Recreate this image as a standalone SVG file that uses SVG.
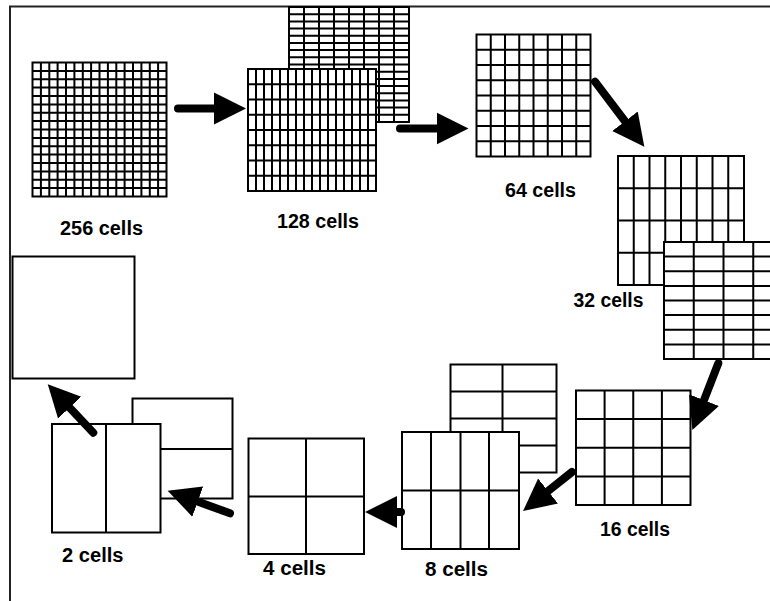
<svg xmlns="http://www.w3.org/2000/svg" width="770" height="601" viewBox="0 0 770 601">
  <style>
    .bg { fill: #ffffff; }
    .cell { fill: #ffffff; stroke: #000000; stroke-width: 2; }
    .grid { fill: none; stroke: #000000; stroke-width: 2; }
    .frame { fill: none; stroke: #222222; stroke-width: 2; }
    .shaft { fill: none; stroke: #000000; stroke-width: 8; stroke-linecap: round; marker-end: url(#head); }
    .label { font-family: "Liberation Sans", Arial, sans-serif; font-weight: bold; font-size: 20px; fill: #000000; }
  </style>
  <defs>
    <marker id="head" markerUnits="userSpaceOnUse" markerWidth="34" markerHeight="34" viewBox="0 -17 34 34" refX="1" refY="0" orient="auto">
      <path d="M0,-16 L32,0 L0,16 Z" fill="#000000"/>
    </marker>
  </defs>

  <rect class="bg" x="0" y="0" width="770" height="601"/>
  <path class="frame" d="M10,601 V6.5 H770"/>

  <!-- 256 cells: 16 x 16 -->
  <g id="grid-256">
    <rect class="cell" x="32.5" y="62.5" width="134" height="134"/>
    <path class="grid" d="M40.9,62.5V196.5M49.3,62.5V196.5M57.6,62.5V196.5M66,62.5V196.5M74.4,62.5V196.5M82.8,62.5V196.5M91.1,62.5V196.5M99.5,62.5V196.5M107.9,62.5V196.5M116.3,62.5V196.5M124.6,62.5V196.5M133,62.5V196.5M141.4,62.5V196.5M149.8,62.5V196.5M158.1,62.5V196.5
      M32.5,70.9H166.5M32.5,79.3H166.5M32.5,87.6H166.5M32.5,96H166.5M32.5,104.4H166.5M32.5,112.8H166.5M32.5,121.1H166.5M32.5,129.5H166.5M32.5,137.9H166.5M32.5,146.3H166.5M32.5,154.6H166.5M32.5,163H166.5M32.5,171.4H166.5M32.5,179.8H166.5M32.5,188.1H166.5"/>
    <text class="label" x="60" y="235" textLength="83" lengthAdjust="spacingAndGlyphs">256 cells</text>
  </g>

  <!-- 128 cells: back 8 x 16, front 16 x 8 -->
  <g id="grid-128">
    <rect class="cell" x="289" y="7" width="120" height="115"/>
    <path class="grid" d="M304,7V122M319,7V122M334,7V122M349,7V122M364,7V122M379,7V122M394,7V122
      M289,14.2H409M289,21.4H409M289,28.6H409M289,35.8H409M289,42.9H409M289,50.1H409M289,57.3H409M289,64.5H409M289,71.7H409M289,78.9H409M289,86.1H409M289,93.3H409M289,100.4H409M289,107.6H409M289,114.8H409"/>
    <rect class="cell" x="248" y="69" width="128" height="122"/>
    <path class="grid" d="M256,69V191M264,69V191M272,69V191M280,69V191M288,69V191M296,69V191M304,69V191M312,69V191M320,69V191M328,69V191M336,69V191M344,69V191M352,69V191M360,69V191M368,69V191
      M248,84.25H376M248,99.5H376M248,114.75H376M248,130H376M248,145.25H376M248,160.5H376M248,175.75H376"/>
    <text class="label" x="277" y="228" textLength="82" lengthAdjust="spacingAndGlyphs">128 cells</text>
  </g>

  <!-- 64 cells: 8 x 8 -->
  <g id="grid-64">
    <rect class="cell" x="476.5" y="34.5" width="114" height="122"/>
    <path class="grid" d="M490.75,34.5V156.5M505,34.5V156.5M519.25,34.5V156.5M533.5,34.5V156.5M547.75,34.5V156.5M562,34.5V156.5M576.25,34.5V156.5
      M476.5,49.75H590.5M476.5,65H590.5M476.5,80.25H590.5M476.5,95.5H590.5M476.5,110.75H590.5M476.5,126H590.5M476.5,141.25H590.5"/>
    <text class="label" x="505" y="197" textLength="71" lengthAdjust="spacingAndGlyphs">64 cells</text>
  </g>

  <!-- 32 cells: back 8 x 4, front 4 x 8 -->
  <g id="grid-32">
    <rect class="cell" x="618" y="156" width="126" height="129"/>
    <path class="grid" d="M633.75,156V285M649.5,156V285M665.25,156V285M681,156V285M696.75,156V285M712.5,156V285M728.25,156V285
      M618,188.25H744M618,220.5H744M618,252.75H744"/>
    <rect class="cell" x="664" y="242" width="119" height="117"/>
    <path class="grid" d="M693.75,242V359M723.5,242V359M753.25,242V359
      M664,256.6H783M664,271.25H783M664,285.9H783M664,300.5H783M664,315.1H783M664,329.75H783M664,344.4H783"/>
    <text class="label" x="573.5" y="306.5" textLength="70" lengthAdjust="spacingAndGlyphs">32 cells</text>
  </g>

  <!-- 16 cells: 4 x 4 -->
  <g id="grid-16">
    <rect class="cell" x="576" y="390.5" width="114.5" height="114.5"/>
    <path class="grid" d="M604.6,390.5V505M633.25,390.5V505M661.9,390.5V505
      M576,419.1H690.5M576,447.75H690.5M576,476.4H690.5"/>
    <text class="label" x="600" y="535.5" textLength="70" lengthAdjust="spacingAndGlyphs">16 cells</text>
  </g>

  <!-- 8 cells: back 2 x 4, front 4 x 2 -->
  <g id="grid-8">
    <rect class="cell" x="450.5" y="364.5" width="106" height="108"/>
    <path class="grid" d="M502.5,364.5V472.5M450.5,391.5H556.5M450.5,418.5H556.5M450.5,445.5H556.5"/>
    <rect class="cell" x="402" y="432" width="117" height="117"/>
    <path class="grid" d="M431,432V549M460.5,432V549M489,432V549M402,490.5H519"/>
    <text class="label" x="425" y="576" textLength="63" lengthAdjust="spacingAndGlyphs">8 cells</text>
  </g>

  <!-- 4 cells: 2 x 2 -->
  <g id="grid-4">
    <rect class="cell" x="248.5" y="438.5" width="115.5" height="115.5"/>
    <path class="grid" d="M306,438.5V554M248.5,496.5H364"/>
    <text class="label" x="263" y="575" textLength="63" lengthAdjust="spacingAndGlyphs">4 cells</text>
  </g>

  <!-- 2 cells: back 1 x 2, front 2 x 1 -->
  <g id="grid-2">
    <rect class="cell" x="132.5" y="398.5" width="100" height="100"/>
    <path class="grid" d="M132.5,449H232.5"/>
    <rect class="cell" x="52" y="424" width="108.5" height="108.5"/>
    <path class="grid" d="M106,424V532.5"/>
    <text class="label" x="62" y="562" textLength="61.5" lengthAdjust="spacingAndGlyphs">2 cells</text>
  </g>

  <!-- 1 cell -->
  <g id="grid-1">
    <rect class="cell" x="12.5" y="256.5" width="122" height="122"/>
  </g>

  <!-- merge arrows -->
  <g id="connectors">
    <path class="shaft" d="M178,108.5L215,108.5"/>
    <path class="shaft" d="M400,128.5L437.5,128.5"/>
    <path class="shaft" d="M595,81.7L625.6,122"/>
    <path class="shaft" d="M718.3,363.3L703.6,401.1"/>
    <path class="shaft" d="M572,472L547.3,491.7"/>
    <path class="shaft" d="M401,512L396,512"/>
    <path class="shaft" d="M230,513.3L196.8,501.3"/>
    <path class="shaft" d="M93.3,432.7L69,406.9"/>
  </g>
</svg>
